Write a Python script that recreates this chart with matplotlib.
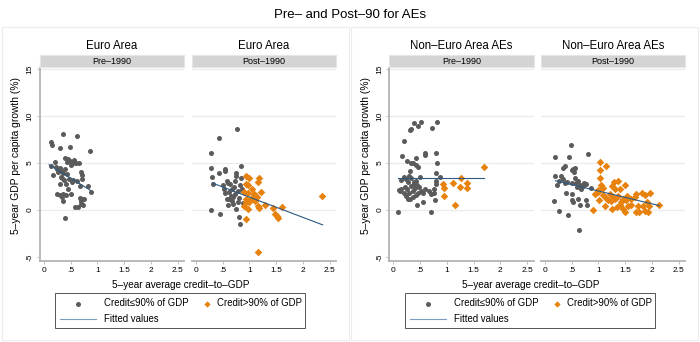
#!/usr/bin/env python3
"""
Pre- and Post-90 scatter panels (credit-to-GDP vs. growth), Stata look
"""
import matplotlib
matplotlib.use("Agg")
import matplotlib.pyplot as plt
from matplotlib.lines import Line2D
from matplotlib.patches import Rectangle

plt.rcParams['font.family'] = ['Liberation Sans', 'DejaVu Sans']

# ---- data ----
# Euro Area, Pre-1990
ea_pre_lo_x = [0.36, 0.62, 0.14, 0.15, 0.30, 0.49, 0.87, 0.14, 0.21, 0.23, 0.39, 0.45, 0.49, 0.54,
               0.56, 0.61, 0.66, 0.43, 0.51, 0.17, 0.25, 0.27, 0.30, 0.33, 0.36, 0.40, 0.43, 0.35,
               0.38, 0.47, 0.52, 0.55, 0.62, 0.70, 0.71, 0.71, 0.67, 0.83, 0.89, 0.31, 0.42, 0.45,
               0.32, 0.25, 0.30, 0.36, 0.42, 0.50, 0.35, 0.36, 0.58, 0.64, 0.70, 0.73, 0.67, 0.72,
               0.75, 0.69, 0.39]
ea_pre_lo_y = [8.1, 7.9, 7.2, 6.9, 6.6, 6.7, 6.3, 4.7, 5.1, 4.6, 5.5, 5.4, 5.2, 5.0,
               5.3, 5.0, 5.0, 5.1, 4.8, 3.7, 4.3, 4.0, 4.4, 4.1, 3.9, 4.3, 3.8, 3.4,
               3.2, 3.3, 3.0, 3.2, 3.1, 4.0, 3.7, 3.3, 2.5, 2.5, 1.95, 2.7, 2.8, 2.2,
               3.5, 1.7, 1.6, 1.7, 1.6, 1.7, 1.4, 0.95, 0.35, 0.35, 0.6, 0.5, 1.3, 1.2,
               1.2, 0.9, -0.9]
ea_pre_fit_x = [0.10, 0.88]
ea_pre_fit_y = [4.8, 2.05]

# Euro Area, Post-1990
ea_post_lo_x = [0.77, 0.43, 0.29, 0.29, 0.30, 0.33, 0.44, 0.54, 0.55, 0.59, 0.60, 0.75, 0.76, 0.85,
                0.73, 0.84, 0.52, 0.55, 0.63, 0.68, 0.72, 0.78, 0.82, 0.65, 0.62, 0.70, 0.74, 0.80,
                0.86, 0.58, 0.67, 0.60, 0.69, 0.78, 0.29, 0.45, 0.75, 0.81, 0.82, 0.88, 0.50, 0.64]
ea_post_lo_y = [8.65, 7.6, 6.1, 4.4, 3.45, 2.8, 3.95, 4.3, 4.1, 3.1, 2.9, 3.9, 3.6, 4.65,
                3.1, 3.4, 2.2, 1.8, 1.9, 2.2, 2.4, 2.0, 2.6, 1.5, 1.2, 1.4, 1.7, 1.3,
                2.2, 1.1, 0.9, 0.5, 0.6, 0.8, 0.0, -0.45, 0.1, -0.8, -1.5, 0.7, 2.6, 2.7]
ea_post_hi_x = [0.94, 0.99, 1.19, 1.16, 0.94, 0.97, 1.06, 1.21, 0.91, 0.97, 1.08, 1.11, 1.14, 0.94,
                1.00, 0.91, 0.97, 1.16, 1.19, 1.30, 1.44, 1.61, 1.48, 1.51, 1.54, 0.93, 2.36, 1.17,
                1.03, 1.10, 0.93, 1.05]
ea_post_hi_y = [3.55, 3.4, 3.4, 2.95, 2.8, 2.6, 2.25, 1.95, 1.9, 1.8, 1.7, 1.55, 1.4, 0.8,
                0.8, 0.45, 0.1, 0.4, 0.2, 0.55, 0.2, 0.25, -0.4, -0.7, -0.9, -0.95, 1.5, -4.5,
                1.1, 0.9, 1.2, 1.3]
ea_post_fit_x = [0.31, 2.37]
ea_post_fit_y = [2.85, -1.6]

# Non-Euro Area AEs, Pre-1990
nea_pre_lo_x = [0.09, 0.12, 0.10, 0.15, 0.14, 0.16, 0.20, 0.31, 0.33, 0.39, 0.47, 0.51, 0.73, 0.81,
                0.26, 0.34, 0.37, 0.43, 0.46, 0.42, 0.59, 0.59, 0.80, 0.82, 0.80, 0.87, 0.80, 0.79,
                0.77, 0.77, 0.71, 0.78, 0.70, 0.56, 0.45, 0.32, 0.50, 0.20, 0.24, 0.27, 0.30, 0.34,
                0.38, 0.41, 0.22, 0.26, 0.29, 0.33, 0.36, 0.40, 0.44, 0.48, 0.52, 0.55, 0.60, 0.23,
                0.28, 0.32, 0.36, 0.42, 0.47, 0.20, 0.38, 0.43, 0.66]
nea_pre_lo_y = [-0.2, 2.0, 2.1, 2.2, 3.2, 5.7, 7.3, 8.5, 8.65, 9.25, 8.9, 9.4, 8.7, 9.3,
                5.15, 5.0, 4.95, 4.75, 4.6, 5.55, 6.05, 5.8, 6.05, 5.0, 3.9, 3.5, 3.1, 2.8,
                2.2, 1.8, 1.7, 1.0, -0.2, 0.8, 0.55, 4.1, 3.5, 3.5, 3.3, 3.0, 3.6, 3.4,
                3.0, 2.7, 2.4, 2.2, 1.8, 2.5, 2.0, 2.3, 2.6, 2.4, 2.0, 1.8, 2.2, 1.5,
                1.2, 1.1, 1.4, 1.6, 1.8, 1.8, 2.8, 3.1, 2.0]
nea_pre_hi_x = [1.69, 0.93, 0.94, 0.95, 1.12, 1.27, 1.24, 1.38, 1.37, 1.15]
nea_pre_hi_y = [4.55, 2.7, 2.3, 1.5, 2.9, 3.4, 2.4, 2.9, 2.3, 0.55]
nea_pre_fit_x = [0.09, 1.69]
nea_pre_fit_y = [3.4, 3.4]

# Non-Euro Area AEs, Post-1990
nea_post_lo_x = [0.49, 0.20, 0.46, 0.81, 0.37, 0.35, 0.50, 0.52, 0.57, 0.54, 0.20, 0.22, 0.30, 0.34,
                 0.37, 0.50, 0.59, 0.62, 0.66, 0.71, 0.74, 0.77, 0.39, 0.51, 0.61, 0.68, 0.18, 0.50,
                 0.53, 0.62, 0.66, 0.77, 0.79, 0.27, 0.44, 0.64, 0.87, 0.27, 0.42, 0.56]
nea_post_lo_y = [6.85, 5.65, 5.65, 5.9, 4.65, 4.45, 4.2, 4.35, 4.45, 4.0, 3.55, 2.65, 3.6, 3.3,
                 2.9, 2.9, 2.85, 3.1, 2.6, 2.55, 2.9, 2.75, 1.8, 1.7, 2.4, 2.2, 0.9, 1.0,
                 0.8, 1.1, 0.5, 1.0, 0.5, -0.15, -0.55, -2.2, 2.3, 3.1, 3.0, 3.4]
nea_post_hi_x = [1.04, 1.15, 1.03, 1.04, 1.06, 1.29, 1.36, 1.26, 1.31, 1.41, 1.49, 0.93, 0.99, 1.09,
                 1.22, 1.27, 1.37, 1.14, 1.18, 1.24, 1.31, 1.43, 1.52, 1.62, 1.68, 1.71, 1.81, 1.87,
                 1.96, 1.01, 1.12, 1.26, 1.35, 0.91, 1.49, 1.47, 1.74, 1.84, 1.91, 1.95, 1.71, 1.77,
                 1.87, 1.93, 2.14, 1.62, 1.56, 1.40, 1.46, 1.53, 1.09, 1.00]
nea_post_hi_y = [5.1, 4.65, 4.2, 3.4, 2.6, 2.95, 3.1, 2.5, 2.25, 2.25, 2.6, 1.7, 1.9, 1.6,
                 1.7, 1.4, 1.5, 1.3, 1.05, 0.9, 1.2, 0.8, 1.0, 1.1, 1.35, 1.7, 1.8, 1.6,
                 1.8, 1.0, 0.4, 0.1, 0.3, 0.0, -0.2, 0.1, 0.45, 0.4, 0.8, 0.45, -0.2, -0.25,
                 -0.1, -0.2, 0.55, 0.5, 0.4, 0.5, 1.2, 1.5, 2.3, 2.1]
nea_post_fit_x = [0.20, 2.14]
nea_post_fit_y = [3.1, 0.45]

x_ticks = [0, 0.5, 1, 1.5, 2, 2.5]
x_tick_labels = ['0', '.5', '1', '1.5', '2', '2.5']
y_ticks = [-5, 0, 5, 10, 15]
y_tick_labels = ['-5', '0', '5', '10', '15']

# ---- style ----
W, H = 700, 342
GRAY = '#5b5b5b'
ORANGE = '#e8820e'
FIT = '#2c5a85'
AXIS = '#b4b4b4'
GRID = '#ebebeb'
STRIP = '#d4d4d4'

fig = plt.figure(figsize=(W / 100, H / 100), dpi=100)
fig.patch.set_facecolor('white')


def box(left, top, right, bottom):
    # pixel box -> figure fraction rect
    return [left / W, 1 - bottom / H, (right - left) / W, (bottom - top) / H]


def panel(left, right, title, strip, lo_x, lo_y, hi_x, hi_y, fit_x, fit_y, show_y=True):
    ax = fig.add_axes(box(left, 68, right, 261))
    ax.set_xlim(-0.07, 2.62)
    ax.set_ylim(-5.45, 15.1)
    for g in y_ticks[1:]:
        ax.axhline(g, color=GRID, lw=0.9, zorder=0)
    ax.scatter(lo_x, lo_y, s=13, color=GRAY, linewidths=0, zorder=3)
    if hi_x:
        ax.scatter(hi_x, hi_y, s=15, marker='D', color=ORANGE, linewidths=0, zorder=3)
    ax.plot(fit_x, fit_y, color=FIT, lw=0.8, zorder=4)

    ax.set_xticks(x_ticks)
    ax.set_xticklabels(x_tick_labels, fontsize=6)
    ax.set_yticks(y_ticks)
    ax.set_yticklabels(y_tick_labels, fontsize=6, rotation=90, va='center')
    ax.tick_params(length=2.5, width=0.6, color=AXIS, pad=2)
    for side in ['top', 'right']:
        ax.spines[side].set_visible(False)
    for side in ['left', 'bottom']:
        ax.spines[side].set_color(AXIS)
        ax.spines[side].set_linewidth(1.3)
    if not show_y:
        # second panel of a pair: no y axis drawn
        ax.spines['left'].set_visible(False)
        ax.tick_params(axis='y', left=False, labelleft=False)

    # strip header
    sax = fig.add_axes(box(left, 55, right, 67))
    sax.set_facecolor(STRIP)
    sax.set_xticks([])
    sax.set_yticks([])
    for sp in sax.spines.values():
        sp.set_color('#e6e6e6')
        sp.set_linewidth(0.8)
    sax.text(0.5, 0.5, strip, ha='center', va='center', fontsize=6.5, transform=sax.transAxes)
    fig.text((left + right) / 2 / W, 1 - 46 / H, title, ha='center', va='center', fontsize=8.3)
    return ax


def legend(x0):
    # Stata style legend box drawn by hand
    fig.add_artist(Rectangle((x0 / W, 1 - 328 / H), 250 / W, 35 / H, transform=fig.transFigure,
                             fill=False, edgecolor='#555555', lw=0.7))
    r1 = 1 - 303.5 / H
    r2 = 1 - 319 / H
    fig.add_artist(Line2D([(x0 + 23) / W], [r1], marker='o', ms=3.6, color=GRAY, mec='none',
                          transform=fig.transFigure))
    fig.text((x0 + 49) / W, r1, 'Credit≤90% of GDP', fontsize=6.9, va='center')
    fig.add_artist(Line2D([(x0 + 152) / W], [r1], marker='D', ms=3.2, color=ORANGE, mec='none',
                          transform=fig.transFigure))
    fig.text((x0 + 162) / W, r1, 'Credit>90% of GDP', fontsize=6.9, va='center')
    fig.add_artist(Line2D([(x0 + 5) / W, (x0 + 41) / W], [r2, r2], color='#7d9cc2', lw=0.8,
                          transform=fig.transFigure))
    fig.text((x0 + 49) / W, r2, 'Fitted values', fontsize=6.9, va='center')


# outer frames of the two graphs
for fx0, fx1 in [(2, 349), (351, 698)]:
    fig.add_artist(Rectangle((fx0 / W, 1 - 340 / H), (fx1 - fx0) / W, 313 / H,
                             transform=fig.transFigure, fill=False, edgecolor='#ececec', lw=0.8))

fig.text(0.5, 1 - 15 / H, 'Pre– and Post–90 for AEs', ha='center', va='center', fontsize=9.5)

panel(40, 184, 'Euro Area', 'Pre–1990', ea_pre_lo_x, ea_pre_lo_y, [], [],
      ea_pre_fit_x, ea_pre_fit_y)
panel(192, 336, 'Euro Area', 'Post–1990', ea_post_lo_x, ea_post_lo_y, ea_post_hi_x, ea_post_hi_y,
      ea_post_fit_x, ea_post_fit_y, show_y=False)
panel(389.5, 533.5, 'Non–Euro Area AEs', 'Pre–1990', nea_pre_lo_x, nea_pre_lo_y,
      nea_pre_hi_x, nea_pre_hi_y, nea_pre_fit_x, nea_pre_fit_y)
panel(541, 685, 'Non–Euro Area AEs', 'Post–1990', nea_post_lo_x, nea_post_lo_y,
      nea_post_hi_x, nea_post_hi_y, nea_post_fit_x, nea_post_fit_y, show_y=False)

for off in [0, 350]:
    fig.text((off + 16) / W, 1 - 155 / H, '5–year GDP per capita growth (%)', rotation=90,
             ha='center', va='center', fontsize=7.4)
    fig.text((off + 181) / W, 1 - 285 / H, '5–year average credit–to–GDP',
             ha='center', va='center', fontsize=7.2)
    legend(off + 55)

fig.savefig('out.png', dpi=100)
plt.close(fig)
